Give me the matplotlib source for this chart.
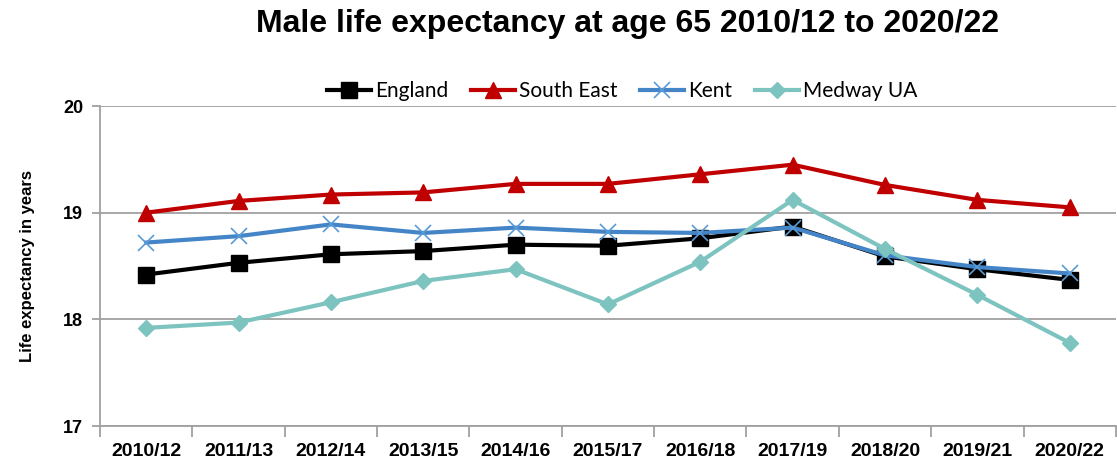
import matplotlib
matplotlib.use("Agg")
import matplotlib.pyplot as plt

periods = ["2010/12", "2011/13", "2012/14", "2013/15", "2014/16", "2015/17",
           "2016/18", "2017/19", "2018/20", "2019/21", "2020/22"]
england = [18.42, 18.53, 18.61, 18.64, 18.70, 18.69, 18.76, 18.87, 18.59, 18.47, 18.37]
south_east = [19.00, 19.11, 19.17, 19.19, 19.27, 19.27, 19.36, 19.45, 19.26, 19.12, 19.05]
kent = [18.72, 18.78, 18.89, 18.81, 18.86, 18.82, 18.81, 18.86, 18.60, 18.49, 18.43]
medway = [17.92, 17.97, 18.16, 18.36, 18.47, 18.14, 18.54, 19.12, 18.66, 18.23, 17.78]
yticks = [17, 18, 19, 20]

fig = plt.figure(figsize=(11.17, 4.66), dpi=100)
ax = fig.add_axes([0.0895, 0.0858, 0.9095, 0.6867])

x = list(range(len(periods)))
grid_c = "#A0A0A0"
ax.plot(x, england, color="black", lw=3, marker="s", ms=11, mfc="black", mec="black",
        label="England", zorder=4)
ax.plot(x, south_east, color="#C00000", lw=3, marker="^", ms=11, mfc="#C00000", mec="#C00000",
        label="South East", zorder=3)
ax.plot(x, kent, color="#4485C8", lw=3, marker="x", ms=11, mew=1.2, mec="#5B9BD5",
        label="Kent", zorder=5)
ax.plot(x, medway, color="#7DC3C0", lw=3, marker="D", ms=8, mfc="#7DC3C0", mec="#7DC3C0",
        label="Medway UA", zorder=6)

ax.set_xlim(-0.5, len(periods) - 0.5)
ax.set_ylim(17, 20)
ax.set_yticks(yticks)
ax.set_yticklabels([str(v) for v in yticks], fontsize=13, fontweight="bold",
                   family=["Liberation Sans", "DejaVu Sans"])
ax.set_xticks([i + 0.5 for i in range(-1, len(periods))], minor=False)
ax.set_xticklabels([])
ax.set_xticks(x, minor=True)
ax.set_xticklabels(periods, minor=True, fontsize=14, fontweight="bold",
                   family=["Liberation Sans Narrow", "Liberation Sans", "DejaVu Sans"])
ax.tick_params(axis="x", which="major", length=8, color=grid_c, width=1.3, direction="out")
ax.tick_params(axis="x", which="minor", length=0, pad=12)
ax.tick_params(axis="y", length=6, color=grid_c, width=1.3, pad=6)

ax.grid(axis="y", color=grid_c, lw=1.3)
ax.set_axisbelow(True)
for s in ["top", "right"]:
    ax.spines[s].set_visible(False)
for s in ["left", "bottom"]:
    ax.spines[s].set_color(grid_c)
    ax.spines[s].set_linewidth(1.3)

ax.set_ylabel("Life expectancy in years", fontsize=12, fontweight="bold",
              family=["Liberation Sans", "DejaVu Sans"], labelpad=20)

fig.text(0.562, 0.948, "Male life expectancy at age 65 2010/12 to 2020/22",
         ha="center", va="center", fontsize=23, fontweight="bold",
         family=["Liberation Sans", "DejaVu Sans"])

leg = fig.legend(loc="center", bbox_to_anchor=(0.557, 0.805), ncol=4, frameon=False,
                 prop={"family": ["Lato", "DejaVu Sans"], "size": 15},
                 handlelength=2.1, handletextpad=0.2, columnspacing=1.1)

fig.savefig("out.png", dpi=100)
